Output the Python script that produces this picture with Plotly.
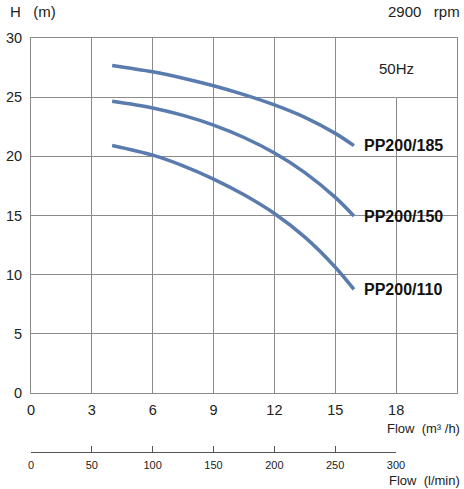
import plotly.graph_objects as go

flow_m3h = [4.0, 6, 7.5, 9, 10.5, 12, 13.5, 15, 15.92]
h_185 = [27.68, 27.14, 26.6, 25.96, 25.21, 24.34, 23.29, 21.94, 20.9]
h_150 = [24.65, 24.09, 23.46, 22.64, 21.59, 20.28, 18.63, 16.53, 14.95]
h_110 = [20.92, 20.1, 19.2, 18.08, 16.75, 15.17, 13.17, 10.63, 8.75]
names = ["PP200/185", "PP200/150", "PP200/110"]
x_ticks = [0, 3, 6, 9, 12, 15, 18]
y_ticks = [0, 5, 10, 15, 20, 25, 30]
lmin_ticks = [0, 50, 100, 150, 200, 250, 300]

LINE = "#5a7bad"
GRID = "#8a8a8a"
FONT = "Liberation Sans, Arial, sans-serif"

fig = go.Figure()
for ys, nm in zip([h_185, h_150, h_110], names):
    fig.add_trace(go.Scatter(x=flow_m3h, y=ys, mode="lines", name=nm,
                             line=dict(color=LINE, width=3.5, shape="spline", smoothing=1.0),
                             showlegend=False, hoverinfo="skip"))
    fig.add_annotation(x=16.33, y=ys[-1], text="<b>%s</b>" % nm, showarrow=False,
                       xanchor="left", yanchor="middle",
                       font=dict(family=FONT, size=16, color="#111111"))

# invisible trace for the l/min axis
fig.add_trace(go.Scatter(x=lmin_ticks, y=[0.5]*len(lmin_ticks), xaxis="x2", yaxis="y2",
                         mode="markers", marker=dict(opacity=0), showlegend=False, hoverinfo="skip"))

fig.update_layout(
    width=464, height=489,
    margin=dict(l=31, r=7, t=38, b=37, autoexpand=False),
    paper_bgcolor="white", plot_bgcolor="white",
    font=dict(family=FONT, size=14, color="#222222"),
    xaxis=dict(range=[0, 21], tickvals=x_ticks, ticktext=[str(v) for v in x_ticks],
               showgrid=True, gridcolor=GRID, gridwidth=1, zeroline=False,
               showline=True, linecolor=GRID, linewidth=1, mirror=True,
               ticks="", ticklabelstandoff=4, anchor="y", automargin=False,
               tickfont=dict(size=14.5, family=FONT, color="#222222")),
    yaxis=dict(range=[0, 30], tickvals=y_ticks, domain=[0.1425, 1],
               showgrid=True, gridcolor=GRID, gridwidth=1, zeroline=False,
               showline=True, linecolor=GRID, linewidth=1, mirror=True,
               ticks="", ticklabelstandoff=5, automargin=False,
               tickfont=dict(size=14.5, family=FONT, color="#222222")),
    xaxis2=dict(range=[0, 300], domain=[0, 0.8568], anchor="y2", tickvals=lmin_ticks,
                showgrid=False, zeroline=False, showline=True, linecolor="#555555", linewidth=1,
                ticks="inside", ticklen=6, tickcolor="#555555", ticklabelstandoff=3,
                automargin=False,
                tickfont=dict(size=11, family=FONT, color="#222222")),
    yaxis2=dict(domain=[0, 0.02], range=[0, 1], showgrid=False, zeroline=False,
                showticklabels=False, showline=False, ticks="", automargin=False),
)

# hide the 18 gridline within the top (50Hz) box
fig.add_shape(type="line", x0=18, x1=18, y0=25, y1=30, xref="x", yref="y",
              line=dict(color="white", width=2), layer="between")

fig.add_annotation(x=18, y=27.4, text="50Hz", showarrow=False, xref="x", yref="y",
                   font=dict(family=FONT, size=15, color="#222222"))
fig.add_annotation(xref="paper", yref="paper", x=-0.055, y=1.065, xanchor="left", yanchor="middle",
                   text="H&nbsp;&nbsp;&nbsp;(m)", showarrow=False,
                   font=dict(family=FONT, size=15, color="#222222"))
fig.add_annotation(xref="paper", yref="paper", x=1.012, y=1.065, xanchor="right", yanchor="middle",
                   text="2900&nbsp;&nbsp;&nbsp;rpm", showarrow=False,
                   font=dict(family=FONT, size=15, color="#222222"))
fig.add_annotation(xref="paper", yref="paper", x=1.012, y=0.0556, xanchor="right", yanchor="middle",
                   text="Flow&nbsp;&nbsp;(m³ /h)", showarrow=False,
                   font=dict(family=FONT, size=13, color="#222222"))
fig.add_annotation(xref="paper", yref="paper", x=1.012, y=-0.068, xanchor="right", yanchor="middle",
                   text="Flow&nbsp;&nbsp;(l/min)", showarrow=False,
                   font=dict(family=FONT, size=13, color="#222222"))

fig.write_html("out.html", config={"displayModeBar": False},
               post_script="document.body.style.margin='0px';")
